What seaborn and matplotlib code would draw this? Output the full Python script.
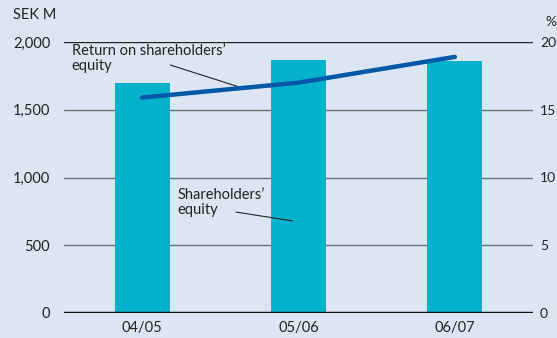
import matplotlib
matplotlib.use("Agg")
import matplotlib.pyplot as plt
import seaborn as sns
import pandas as pd

# Data
years = ["04/05", "05/06", "06/07"]
equity_sek_m = [1700, 1870, 1860]          # Shareholders' equity, SEK M
return_on_equity_pct = [15.9, 17.0, 18.9]  # Return on shareholders' equity, %
left_ticks = [0, 500, 1000, 1500, 2000]
left_tick_labels = ["0", "500", "1,000", "1,500", "2,000"]
right_ticks = [0, 5, 10, 15, 20]

bg = "#dce6f3"
bar_color = "#06b2cb"
line_color = "#0058a6"
text_color = "#222222"

sns.set_theme(style="white")
plt.rcParams["font.family"] = ["Lato", "DejaVu Sans"]

df = pd.DataFrame({"year": years, "equity": equity_sek_m, "roe": return_on_equity_pct})

fig = plt.figure(figsize=(5.57, 3.38), dpi=100, facecolor=bg)
ax = fig.add_axes([64 / 557, 1 - 313 / 338, (533 - 64) / 557, (313 - 42) / 338])
ax.set_facecolor(bg)

# Horizontal gridlines
for v in left_ticks[1:]:
    ax.axhline(v, color="#222222" if v == 2000 else "#6f6f6f", lw=1.0, zorder=0)

sns.barplot(data=df, x="year", y="equity", color=bar_color, width=0.35,
            saturation=1, linewidth=0, edgecolor=bar_color, ax=ax, zorder=2)
ax.axhline(0, color="#111111", lw=2.5, zorder=3)

ax.set_xlim(-0.5, 2.5)
ax.set_ylim(0, 2000)
ax.set_yticks(left_ticks)
ax.set_yticklabels(left_tick_labels)
ax.set_xlabel("")
ax.set_ylabel("")
ax.tick_params(axis="y", length=0, pad=10, labelsize=10.5, colors=text_color)
ax.tick_params(axis="x", length=0, pad=6, labelsize=10.5, colors=text_color)
for s in ax.spines.values():
    s.set_visible(False)

ax2 = ax.twinx()
sns.lineplot(data=df, x="year", y="roe", color=line_color, lw=3.2, ax=ax2, zorder=4)
ax2.set_ylim(0, 20)
ax2.set_yticks(right_ticks)
ax2.set_yticklabels([str(t) for t in right_ticks])
ax2.set_ylabel("")
ax2.tick_params(axis="y", length=0, pad=5, labelsize=10, colors=text_color)
for s in ax2.spines.values():
    s.set_visible(False)
ax2.set_xlim(-0.5, 2.5)

# Axis unit labels
fig.text(13 / 557, 1 - 15 / 338, "SEK M", fontsize=10.5, color=text_color, va="center", ha="left")
fig.text(551 / 557, 1 - 22 / 338, "%", fontsize=10, color=text_color, va="center", ha="center")

# Series annotations
ax.text(-0.45, 1880, "Return on shareholders’\nequity", fontsize=10.5, color=text_color,
        va="center", ha="left", linespacing=1.05, zorder=5)
ax.plot([0.18, 0.61], [1830, 1672], color="#222222", lw=0.8, zorder=5)

ax.text(0.225, 815, "Shareholders’\nequity", fontsize=10.5, color=text_color,
        va="center", ha="left", linespacing=1.05, zorder=5)
ax.plot([0.6, 0.96], [745, 680], color="#222222", lw=0.8, zorder=5)

fig.savefig("out.png", dpi=100, facecolor=bg)
